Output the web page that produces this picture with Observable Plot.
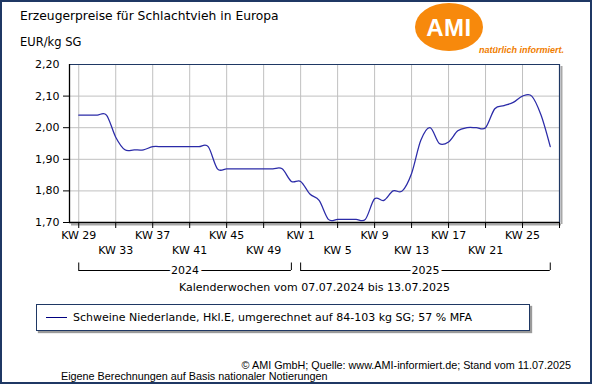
<!DOCTYPE html>
<html>
<head>
<meta charset="utf-8">
<script src="https://cdn.jsdelivr.net/npm/d3@7"></script>
<script src="https://cdn.jsdelivr.net/npm/@observablehq/plot@0.6"></script>
<style>
  html, body { margin: 0; padding: 0; background: #fff; }
  #chart { position: relative; width: 592px; height: 384px; background: #fff; overflow: hidden;
           outline: 2px solid #1f3864; outline-offset: -2px;
           font-family: "DejaVu Sans", Verdana, sans-serif; color: #000; }
  .abs { position: absolute; white-space: nowrap; line-height: 1; }
  #title { left: 20px; top: 10px; font-size: 12.3px; }
  #unit { left: 20px; top: 37px; font-size: 11.5px; }
  #logo { left: 415px; top: 3px; width: 68px; height: 48px; border-radius: 50%; background: #f7890c; }
  #logoText { left: 415px; top: 16px; width: 68px; text-align: center; color: #fff;
              font-family: "Liberation Sans", Arial, sans-serif; font-weight: bold; font-size: 24px; letter-spacing: 0.5px; }
  #tagline { left: 479px; top: 46px; color: #f07d00; font-family: "Liberation Sans", Arial, sans-serif;
             font-style: italic; font-weight: bold; font-size: 9px; }
  #plotwrap { position: absolute; left: 0; top: 50px; }
  #legend { left: 36px; top: 304px; width: 492px; height: 25px; border: 1px solid #1f3864; background: #fff;
            box-shadow: 2px 2px 1px #9a9a9a; display: flex; align-items: center; font-size: 11px; }
  #legend .swatch { display: inline-block; width: 21px; height: 0; border-top: 1.5px solid #000080; margin-left: 9px; margin-right: 6px; }
  .foot { font-family: "Liberation Sans", Arial, sans-serif; font-size: 10.8px; }
  #foot1 { right: 21px; top: 360px; }
  #foot2 { left: 61px; top: 371px; }
</style>
</head>
<body>
<div id="chart">
  <div class="abs" id="title"></div>
  <div class="abs" id="unit"></div>
  <div class="abs" id="logo"></div>
  <div class="abs" id="logoText"></div>
  <div class="abs" id="tagline"></div>
  <div id="plotwrap"></div>
  <div class="abs" id="legend"><span class="swatch"></span><span id="legendText"></span></div>
  <div class="abs foot" id="foot1"></div>
  <div class="abs foot" id="foot2"></div>
</div>
<script>
// ---- texts ----
const titleText = "Erzeugerpreise für Schlachtvieh in Europa";
const unitText = "EUR/kg SG";
const logoWord = "AMI";
const logoTagline = "natürlich informiert.";
const seriesName = "Schweine Niederlande, Hkl.E, umgerechnet auf 84-103 kg SG; 57 % MFA";
const xTitle = "Kalenderwochen vom 07.07.2024 bis 13.07.2025";
const sourceText = "© AMI GmbH; Quelle: www.AMI-informiert.de; Stand vom 11.07.2025";
const noteText = "Eigene Berechnungen auf Basis nationaler Notierungen";

// ---- data ----
const weeks2024 = [29,30,31,32,33,34,35,36,37,38,39,40,41,42,43,44,45,46,47,48,49,50,51,52];
const weeks2025 = [1,2,3,4,5,6,7,8,9,10,11,12,13,14,15,16,17,18,19,20,21,22,23,24,25,26,27,28];
const price2024 = [2.04,2.04,2.04,2.04,1.97,1.93,1.93,1.93,1.94,1.94,1.94,1.94,1.94,1.94,1.94,1.87,
                   1.87,1.87,1.87,1.87,1.87,1.87,1.87,1.83];
const price2025 = [1.83,1.79,1.77,1.71,1.71,1.71,1.71,1.71,1.775,1.77,1.80,1.80,1.855,1.96,2.00,1.95,
                   1.955,1.99,2.00,2.00,2.00,2.06,2.07,2.08,2.10,2.10,2.04,1.94];
const tickLabels = ["KW 29","KW 33","KW 37","KW 41","KW 45","KW 49","KW 1","KW 5","KW 9","KW 13","KW 17","KW 21","KW 25",""];
const yTicks = [1.70,1.80,1.90,2.00,2.10,2.20];
const yearNames = ["2024","2025"];

// ---- build tables ----
const rows = [
  ...weeks2024.map((kw, i) => ({year: yearNames[0], kw, price: price2024[i]})),
  ...weeks2025.map((kw, i) => ({year: yearNames[1], kw, price: price2025[i]}))
].map((d, i) => ({...d, idx: i + 1}));
const ticks = tickLabels.map((label, k) => ({idx: 1 + 4 * k, label, row: k % 2}));
const spans = yearNames.map(y => {
  const [start, end] = d3.extent(rows.filter(r => r.year === y), r => r.idx);
  return {year: y, start, end, mid: (start + end) / 2};
});
const spanEnds = spans.flatMap(s => [s.start, s.end]);
const xDomain = [0, ticks[ticks.length - 1].idx];
const yMin = yTicks[0], yMax = yTicks[yTicks.length - 1];
const fmt = v => v.toFixed(2).replace(".", ",");

document.getElementById("title").textContent = titleText;
document.getElementById("unit").textContent = unitText;
document.getElementById("logoText").textContent = logoWord;
document.getElementById("tagline").textContent = logoTagline;
document.getElementById("legendText").textContent = seriesName;
document.getElementById("foot1").textContent = sourceText;
document.getElementById("foot2").textContent = noteText;

const navy = "#1f3864";
const plot = Plot.plot({
  width: 592,
  height: 248,
  marginLeft: 69,
  marginRight: 33,
  marginTop: 14,
  marginBottom: 76,
  x: {domain: xDomain, axis: null},
  y: {domain: [yMin, yMax], axis: null},
  style: {fontFamily: "'DejaVu Sans', Verdana, sans-serif", fontSize: "11px", background: "transparent", overflow: "visible", color: "#000"},
  marks: [
    Plot.ruleX(ticks, {x: "idx", stroke: "#c0c0c0", strokeWidth: 1}),
    Plot.ruleY(yTicks.slice(1, -1), {stroke: "#c0c0c0", strokeWidth: 1}),
    Plot.ruleX([xDomain[1]], {dx: 2, dy: 2, stroke: "#a8a8a8", strokeWidth: 2}),
    Plot.ruleY([yMin], {dx: 2, dy: 2, stroke: "#a8a8a8", strokeWidth: 2}),
    Plot.ruleY([yMax], {stroke: navy, strokeWidth: 1.2}),
    Plot.ruleX([xDomain[1]], {stroke: navy, strokeWidth: 1.2}),
    Plot.ruleX([xDomain[0]], {stroke: "#000", strokeWidth: 1.3}),
    Plot.ruleY([yMin], {stroke: "#000", strokeWidth: 1.3}),
    Plot.ruleY(yTicks.slice(0, -1), {x1: () => xDomain[0], x2: () => xDomain[0], insetLeft: -6, stroke: "#000"}),
    Plot.text(yTicks, {x: () => xDomain[0], y: d => d, text: fmt, textAnchor: "end", dx: -10, fill: "#000"}),
    Plot.ruleX(ticks, {x: "idx", y1: () => yMin, y2: () => yMin, insetBottom: -6, stroke: "#000"}),
    Plot.text(ticks.filter(t => t.row === 0), {x: "idx", y: () => yMin, text: "label", dy: 12.5, fill: "#000"}),
    Plot.text(ticks.filter(t => t.row === 1), {x: "idx", y: () => yMin, text: "label", dy: 28, fill: "#000"}),
    Plot.ruleY(spans, {x1: "start", x2: "end", y: () => yMin, dy: 48, stroke: "#000"}),
    Plot.ruleX(spanEnds, {x: d => d, y1: () => yMin, y2: () => yMin, insetTop: -7.5, dy: 48, stroke: "#000"}),
    Plot.text(spans, {x: "mid", y: () => yMin, text: "year", dy: 48, fill: "#000", stroke: "#fff", strokeWidth: 6, paintOrder: "stroke"}),
    Plot.text([xTitle], {frameAnchor: "bottom", text: d => d, dy: 68, fill: "#000"}),
    Plot.line(rows, {x: "idx", y: "price", curve: "cardinal", stroke: "#2b2ba8", strokeWidth: 1.25})
  ]
});
document.getElementById("plotwrap").appendChild(plot);
</script>
</body>
</html>
